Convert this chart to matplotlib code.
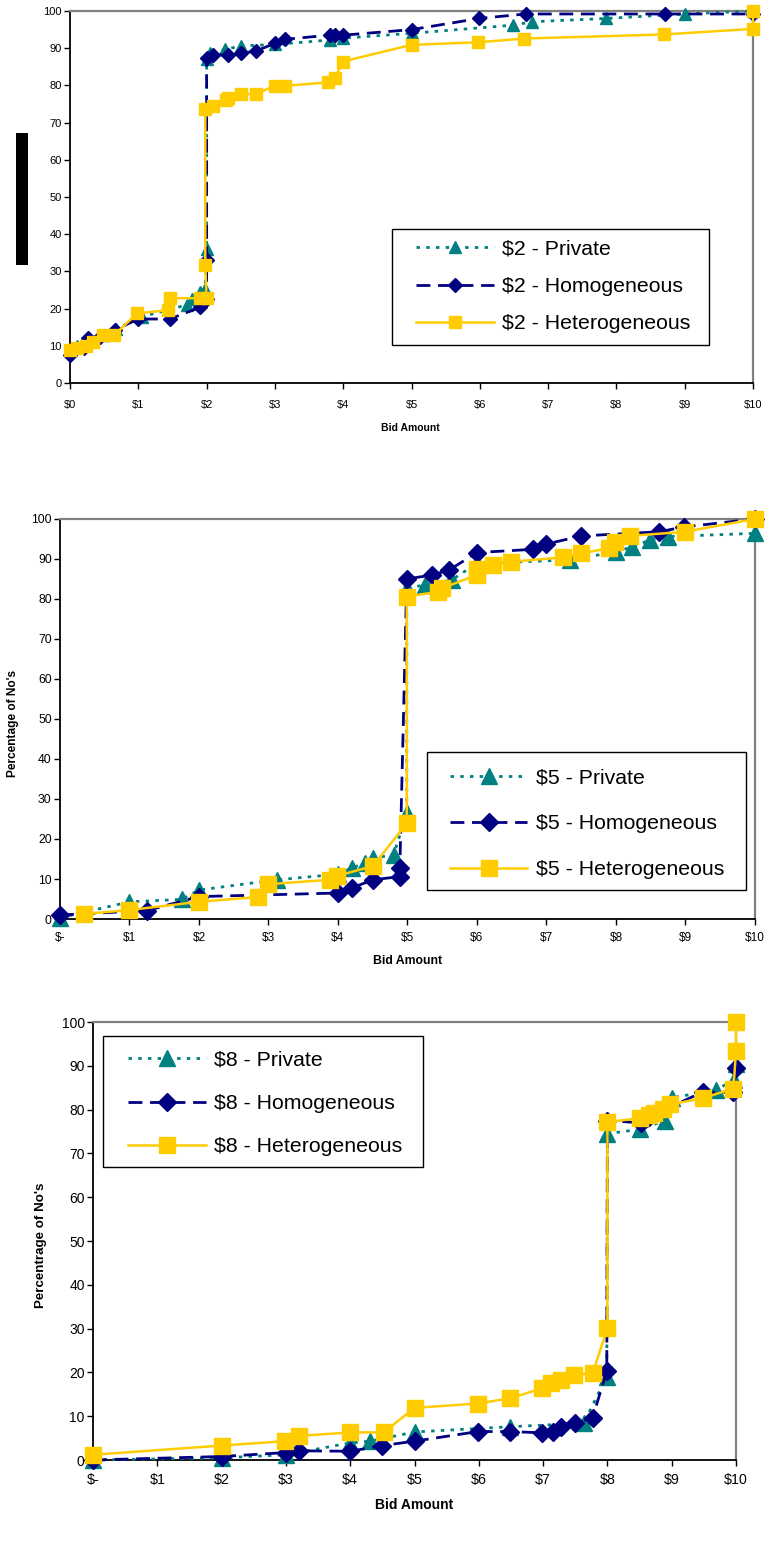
import matplotlib
matplotlib.use("Agg")
import matplotlib.pyplot as plt
from matplotlib.patches import Rectangle

plt.rcParams['font.family'] = ['Liberation Sans', 'DejaVu Sans']
plt.rcParams['lines.scale_dashes'] = False

# ---------------- data ----------------
xticks = [0, 1, 2, 3, 4, 5, 6, 7, 8, 9, 10]
xtick_labels_top = ["$0", "$1", "$2", "$3", "$4", "$5", "$6", "$7", "$8", "$9", "$10"]
xtick_labels = ["$-", "$1", "$2", "$3", "$4", "$5", "$6", "$7", "$8", "$9", "$10"]
yticks = [0, 10, 20, 30, 40, 50, 60, 70, 80, 90, 100]

# $2 panel
p2_x = [0, 0.1, 0.27, 0.5, 0.68, 1.05, 1.71, 1.78, 1.9, 1.98, 2.0, 2.0, 2.05, 2.27, 2.51, 3.0, 3.8, 4.0, 5.0, 6.49, 6.76, 7.84, 9.0, 10]
p2_y = [9, 10, 11.5, 13, 14.5, 17.8, 21, 22.5, 24.5, 25.4, 36, 87, 88.6, 89.7, 90.6, 91, 92.2, 92.7, 94, 96.2, 97.1, 98.0, 99.2, 100]
h2_x = [0, 0.2, 0.27, 0.44, 0.66, 1.0, 1.46, 1.9, 2.0, 2.0, 2.0, 2.1, 2.32, 2.51, 2.73, 3.0, 3.15, 3.8, 3.88, 4.0, 5.0, 5.99, 6.67, 8.71, 10]
h2_y = [7.5, 9.4, 12.2, 12.5, 14.3, 17.2, 17.2, 20.3, 22.5, 33, 87.3, 88.2, 88.2, 88.6, 89.3, 91.3, 92.4, 93.5, 93.5, 93.5, 95.0, 98.0, 99.2, 99.2, 99.2]
e2_x = [0, 0.1, 0.24, 0.34, 0.49, 0.65, 0.98, 1.44, 1.47, 1.9, 2.0, 1.98, 1.98, 2.1, 2.29, 2.32, 2.5, 2.72, 3.0, 3.15, 3.78, 3.88, 3.99, 5.0, 5.98, 6.65, 8.7, 10, 10]
e2_y = [8.9, 9.3, 9.9, 11.1, 12.9, 12.9, 18.7, 19.6, 22.8, 22.8, 22.8, 31.7, 73.7, 74.5, 76.1, 76.7, 77.7, 77.7, 79.9, 79.9, 80.8, 81.9, 86.4, 90.9, 91.6, 92.6, 93.7, 95.2, 100]

# $5 panel
p5_x = [0, 1.0, 1.75, 2.0, 3.12, 4.0, 4.2, 4.39, 4.5, 4.8, 4.99, 4.99, 5.25, 5.64, 6.0, 7.34, 8.0, 8.23, 8.49, 8.75, 10]
p5_y = [0.3, 4.3, 4.9, 7.25, 9.8, 11.2, 12.75, 14, 15.25, 16, 26.4, 82.7, 83.5, 84.8, 88.9, 89.75, 91.8, 93, 94.75, 95.6, 96.4]
h5_x = [0, 1.25, 2.0, 4.0, 4.2, 4.5, 4.89, 4.89, 4.99, 5.36, 5.6, 6.0, 6.8, 6.99, 7.5, 8.62, 8.98, 10]
h5_y = [1.0, 2.1, 5.6, 6.5, 7.75, 9.8, 10.6, 12.7, 85, 86, 87.25, 91.6, 92.4, 93.7, 95.75, 96.8, 98, 100]
e5_x = [0.35, 1.0, 2.0, 2.85, 3.0, 3.88, 3.99, 4.5, 4.99, 4.99, 5.44, 5.5, 6.0, 6.0, 6.23, 6.49, 7.24, 7.5, 7.9, 7.99, 8.2, 8.99, 10]
e5_y = [1.25, 2.25, 4.3, 5.5, 8.7, 9.8, 10.8, 13.2, 23.9, 80.6, 81.8, 82.7, 86.0, 87.5, 88.5, 89.3, 90.4, 91.4, 92.7, 94.3, 95.75, 96.8, 100]

# $8 panel
p8_x = [0, 2.0, 3.0, 4.0, 4.31, 5.0, 6.49, 7.63, 7.99, 8.0, 8.5, 8.9, 9.0, 9.69, 9.97, 10]
p8_y = [0, 0.5, 1.2, 3.9, 4.3, 6.4, 7.6, 8.4, 19.0, 74.5, 75.5, 77.5, 82.7, 84.5, 86.8, 90.5]
h8_x = [0, 2.0, 3.0, 3.2, 4.0, 4.5, 5.0, 5.99, 6.49, 6.99, 7.15, 7.28, 7.5, 7.77, 7.99, 8.0, 8.52, 8.65, 9.48, 9.96, 10]
h8_y = [0, 0.8, 1.7, 2.1, 2.0, 3.3, 4.3, 6.5, 6.5, 6.2, 6.5, 7.6, 8.4, 9.7, 20.3, 77.5, 77.0, 78.4, 84.0, 84.0, 89.4]
e8_x = [0, 2.0, 2.99, 3.2, 4.0, 4.52, 5.0, 5.99, 6.49, 6.99, 7.13, 7.28, 7.48, 7.77, 8.0, 8.0, 8.5, 8.64, 8.72, 8.87, 8.98, 9.48, 9.96, 10, 10]
e8_y = [1.2, 3.3, 4.3, 5.5, 6.3, 6.3, 11.9, 12.9, 14.1, 16.4, 17.5, 18.3, 19.4, 19.8, 30.1, 77.2, 78.0, 78.8, 79.3, 80.2, 81.2, 82.6, 84.8, 93.5, 100]

TEAL = "#008080"
NAVY = "#000080"
GOLD = "#FFCC00"

fig = plt.figure(figsize=(7.67, 15.41), dpi=100)

def style_axes(ax, labels, xfs, yfs, xpad=5):
    ax.set_xlim(0, 10)
    ax.set_ylim(0, 100)
    ax.set_xticks(xticks)
    ax.set_xticklabels(labels, fontsize=xfs)
    ax.set_yticks(yticks)
    ax.tick_params(axis='y', labelsize=yfs, direction='out', length=4, width=1, pad=2)
    ax.tick_params(axis='x', direction='out', length=4, width=1, pad=xpad)
    for s in ['top', 'right']:
        ax.spines[s].set_color('#808080')
        ax.spines[s].set_linewidth(1.6)
    for s in ['left', 'bottom']:
        ax.spines[s].set_color('black')
        ax.spines[s].set_linewidth(1.3)

def draw(ax, px, py, hx, hy, ex, ey, lab, ms):
    ax.plot(px, py, color=TEAL, lw=2.0, dashes=(2.5, 4.5), marker='^', ms=ms, mec=TEAL, mfc=TEAL,
            label=lab + " - Private", clip_on=False, zorder=3)
    ax.plot(hx, hy, color=NAVY, lw=2.0, dashes=(10, 5.5), marker='D', ms=ms * 0.8, mec=NAVY, mfc=NAVY,
            label=lab + " - Homogeneous", clip_on=False, zorder=4)
    ax.plot(ex, ey, color=GOLD, lw=1.8, ls='-', marker='s', ms=ms, mec=GOLD, mfc=GOLD,
            label=lab + " - Heterogeneous", clip_on=False, zorder=5)

def legend(ax, anchor, spacing, frame):
    x0, y0, x1, y1 = frame
    ax.add_patch(Rectangle((x0, y0), x1 - x0, y1 - y0, transform=ax.transAxes,
                           facecolor='white', edgecolor='black', lw=1.0,
                           clip_on=False, zorder=9))
    leg = ax.legend(loc='upper left', bbox_to_anchor=anchor, fontsize=15.3,
                    frameon=False, handlelength=3.65, handletextpad=0.4,
                    labelspacing=spacing, borderpad=0, borderaxespad=0)
    leg.set_zorder(10)
    return leg

# ---------- top panel ----------
ax1 = fig.add_axes([0.0913, 0.75146, 0.8905, 0.2414])
draw(ax1, p2_x, p2_y, h2_x, h2_y, e2_x, e2_y, "$2", 8.5)
style_axes(ax1, xtick_labels_top, 8, 8, xpad=8)
ax1.set_xlabel("Bid Amount", fontsize=7.5, fontweight='bold')
ax1.xaxis.set_label_coords(0.498, -0.107)
legend(ax1, (0.5066, 0.3857), 0.87, (0.4714, 0.1022, 0.9356, 0.414))

# redaction block
fig.add_artist(Rectangle((0.02086, 0.8280), 0.01565, 0.08566, transform=fig.transFigure,
                         facecolor='black', edgecolor='none'))

# ---------- middle panel ----------
ax2 = fig.add_axes([0.0782, 0.40363, 0.9061, 0.2596])
draw(ax2, p5_x, p5_y, h5_x, h5_y, e5_x, e5_y, "$5", 11)
style_axes(ax2, xtick_labels, 8.5, 8.8)
ax2.set_xlabel("Bid Amount", fontsize=8.8, fontweight='bold')
ax2.xaxis.set_label_coords(0.5, -0.09)
ax2.set_ylabel("Percentage of No's", fontsize=8.6, fontweight='bold')
ax2.yaxis.set_label_coords(-0.0585, 0.49)
legend(ax2, (0.561, 0.37625), 1.27, (0.528, 0.0725, 0.987, 0.4175))

# ---------- bottom panel ----------
ax3 = fig.add_axes([0.1213, 0.05256, 0.8383, 0.2842])
draw(ax3, p8_x, p8_y, h8_x, h8_y, e8_x, e8_y, "$8", 11)
style_axes(ax3, xtick_labels, 10.2, 10)
ax3.set_xlabel("Bid Amount", fontsize=10, fontweight='bold')
ax3.xaxis.set_label_coords(0.5, -0.0866)
ax3.set_ylabel("Percentrage of No's", fontsize=9.6, fontweight='bold')
ax3.yaxis.set_label_coords(-0.071, 0.49)
legend(ax3, (0.0544, 0.935), 1.15, (0.0156, 0.669, 0.513, 0.968))

fig.savefig("out.png", dpi=100)
